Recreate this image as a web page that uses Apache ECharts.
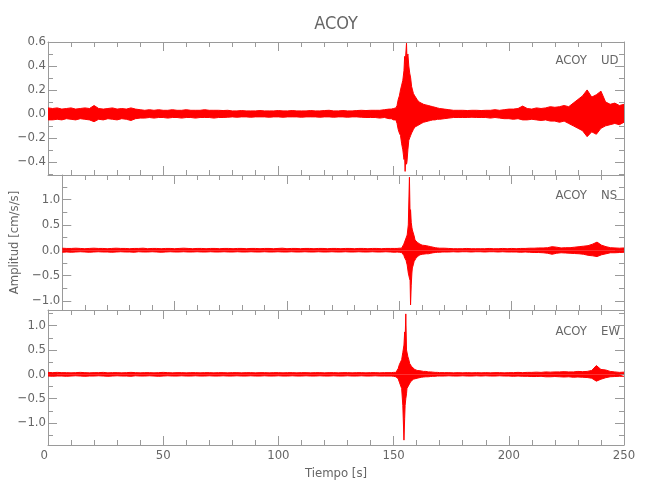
<!DOCTYPE html>
<html><head><meta charset="utf-8">
<script src="https://cdn.jsdelivr.net/npm/echarts@6/dist/echarts.min.js"></script>
<style>html,body{margin:0;padding:0;background:#fff}#c{width:650px;height:500px}</style>
</head><body><div id="c"></div>
<script>
const stationName = 'ACOY';
const componentNames = ['UD', 'NS', 'EW'];
const xAxisTitle = 'Tiempo [s]';
const yAxisTitle = 'Amplitud [cm/s/s]';

// sample times (s) of the read-off envelope
const timeSec = [
  0,2,4,6,8,10,12,14,16,18,20,22,24,26,28,
  30,32,34,36,38,40,42,44,46,48,50,52,54,56,58,
  60,62,64,66,68,70,72,74,76,78,80,82,84,86,88,
  90,92,94,96,98,100,102,104,106,108,110,112,114,116,118,
  120,122,124,126,128,130,132,134,136,138,140,142,144,146,148,
  149,150,151,151.5,152,152.5,153,153.5,154,154.5,
  154.8,155,155.3,155.6,155.8,156.2,156.6,157,157.4,157.8,
  158.2,158.6,159.2,160.2,161,162,163,164,165,166,
  167,168,169,170,
  172,174,176,178,180,182,184,186,188,190,
  192,194,196,198,200,202,204,206,208,210,
  212,214,216,218,220,222,224,226,228,230,
  232,234,236,238,240,242,244,246,248,250
];

// UD component: upper / lower envelope (cm/s/s)
const udHigh = [
  .05,.045,.05,.04,.045,.05,.04,.045,.05,.045,.07,.045,.04,.045,.05,
  .04,.045,.04,.05,.04,.035,.03,.035,.03,.035,.03,.03,.035,.03,.03,
  .035,.03,.03,.03,.035,.03,.03,.03,.028,.03,.025,.025,.028,.025,.025,
  .025,.028,.025,.025,.025,.028,.025,.025,.028,.025,.025,.025,.028,.025,.025,
  .028,.03,.025,.025,.028,.025,.025,.028,.03,.028,.03,.03,.03,.035,.04,
  .04,.045,.05,.07,.12,.15,.2,.24,.28,.36,
  .48,.42,.5,.59,.46,.5,.4,.34,.3,.23,
  .2,.17,.15,.12,.1,.09,.08,.075,.07,.065,
  .06,.055,.05,.045,
  .04,.035,.03,.03,.03,.028,.03,.03,.028,.03,
  .03,.035,.03,.035,.04,.04,.045,.065,.045,.04,
  .05,.045,.05,.06,.055,.06,.07,.06,.09,.12,
  .15,.2,.14,.16,.19,.1,.08,.09,.07,.08
];
const udLow = [
  -.05,-.05,-.045,-.05,-.04,-.045,-.05,-.04,-.045,-.05,-.065,-.045,-.05,-.04,-.045,
  -.05,-.04,-.045,-.055,-.04,-.035,-.035,-.03,-.035,-.03,-.03,-.035,-.03,-.03,-.035,
  -.03,-.03,-.035,-.03,-.03,-.03,-.035,-.03,-.03,-.028,-.025,-.028,-.025,-.025,-.028,
  -.025,-.025,-.025,-.028,-.025,-.025,-.028,-.025,-.025,-.025,-.028,-.025,-.025,-.025,-.028,
  -.025,-.025,-.028,-.025,-.025,-.028,-.025,-.025,-.028,-.03,-.03,-.03,-.035,-.03,-.04,
  -.04,-.05,-.05,-.08,-.13,-.16,-.18,-.25,-.3,-.38,
  -.36,-.48,-.35,-.42,-.4,-.3,-.22,-.2,-.18,-.16,
  -.15,-.13,-.11,-.1,-.09,-.08,-.07,-.065,-.06,-.055,
  -.05,-.05,-.045,-.045,
  -.04,-.035,-.03,-.03,-.03,-.03,-.028,-.03,-.03,-.03,
  -.035,-.03,-.035,-.04,-.04,-.045,-.04,-.05,-.05,-.045,
  -.05,-.055,-.05,-.06,-.06,-.07,-.06,-.08,-.1,-.12,
  -.14,-.19,-.15,-.17,-.12,-.1,-.09,-.08,-.09,-.07
];

// NS component
const nsHigh = [
  .04,.035,.035,.04,.035,.03,.035,.04,.035,.035,.03,.035,.04,.035,.035,
  .03,.035,.035,.04,.03,.035,.035,.03,.035,.035,.03,.035,.04,.035,.03,
  .035,.035,.03,.035,.035,.03,.035,.035,.03,.035,.035,.03,.035,.035,.03,
  .035,.035,.03,.035,.04,.03,.035,.035,.03,.035,.035,.03,.035,.035,.03,
  .035,.035,.03,.035,.035,.03,.035,.035,.03,.035,.035,.03,.035,.035,.035,
  .035,.04,.04,.05,.12,.18,.2,.3,.5,1.44,
  .65,.8,.55,.45,.4,.34,.28,.2,.22,.17,
  .15,.14,.12,.1,.1,.09,.08,.07,.06,.05,
  .045,.04,.04,.04,
  .035,.03,.03,.03,.035,.03,.03,.03,.03,.035,
  .03,.03,.035,.03,.035,.03,.035,.035,.04,.04,
  .045,.045,.05,.07,.06,.045,.05,.05,.06,.07,
  .08,.09,.12,.16,.1,.07,.05,.045,.04,.045
];
const nsLow = [
  -.04,-.035,-.04,-.035,-.03,-.035,-.04,-.035,-.03,-.035,-.035,-.04,-.035,-.03,-.035,
  -.035,-.04,-.03,-.035,-.035,-.03,-.035,-.04,-.035,-.03,-.035,-.035,-.03,-.035,-.035,
  -.03,-.035,-.035,-.03,-.035,-.035,-.03,-.035,-.035,-.03,-.035,-.035,-.03,-.035,-.035,
  -.03,-.035,-.035,-.03,-.035,-.035,-.03,-.035,-.035,-.03,-.035,-.035,-.03,-.035,-.035,
  -.03,-.035,-.035,-.03,-.035,-.035,-.03,-.035,-.035,-.03,-.035,-.035,-.03,-.035,-.04,
  -.035,-.04,-.045,-.06,-.1,-.16,-.2,-.29,-.45,-.55,
  -.6,-1.08,-.69,-.45,-.35,-.29,-.22,-.19,-.16,-.14,
  -.12,-.1,-.09,-.08,-.08,-.07,-.07,-.06,-.05,-.045,
  -.04,-.04,-.035,-.035,
  -.035,-.03,-.035,-.03,-.03,-.035,-.03,-.03,-.035,-.03,
  -.03,-.035,-.03,-.035,-.035,-.035,-.04,-.035,-.04,-.045,
  -.045,-.05,-.06,-.08,-.06,-.05,-.055,-.06,-.065,-.07,
  -.08,-.1,-.11,-.125,-.09,-.07,-.05,-.05,-.045,-.04
];

// EW component
const ewHigh = [
  .04,.035,.04,.035,.035,.03,.035,.04,.035,.03,.035,.035,.04,.03,.035,
  .035,.03,.035,.04,.035,.03,.035,.035,.03,.035,.04,.035,.03,.035,.035,
  .03,.035,.035,.03,.035,.035,.03,.035,.035,.03,.035,.035,.03,.035,.035,
  .03,.035,.035,.03,.035,.035,.03,.035,.035,.03,.035,.035,.03,.035,.035,
  .03,.035,.035,.03,.035,.035,.03,.035,.035,.03,.035,.035,.03,.035,.035,
  .035,.04,.04,.06,.12,.2,.22,.3,.45,.6,
  .87,.7,1.24,.5,.46,.36,.3,.22,.2,.16,
  .15,.14,.1,.08,.08,.07,.06,.06,.05,.05,
  .045,.04,.04,.035,
  .035,.035,.03,.035,.03,.035,.03,.035,.03,.035,
  .03,.035,.035,.03,.035,.035,.04,.035,.04,.04,
  .045,.04,.05,.045,.05,.05,.055,.05,.05,.06,
  .055,.06,.08,.18,.1,.09,.06,.05,.04,.045
];
const ewLow = [
  -.035,-.04,-.035,-.035,-.04,-.035,-.03,-.035,-.04,-.035,-.035,-.03,-.035,-.04,-.035,
  -.03,-.035,-.035,-.04,-.03,-.035,-.035,-.03,-.035,-.04,-.035,-.03,-.035,-.035,-.03,
  -.035,-.035,-.03,-.035,-.035,-.03,-.035,-.035,-.03,-.035,-.035,-.03,-.035,-.035,-.03,
  -.035,-.035,-.03,-.035,-.035,-.03,-.035,-.035,-.03,-.035,-.035,-.03,-.035,-.035,-.03,
  -.035,-.035,-.03,-.035,-.035,-.03,-.035,-.035,-.03,-.035,-.035,-.03,-.035,-.035,-.035,
  -.035,-.04,-.05,-.06,-.09,-.16,-.2,-.29,-.64,-1.35,
  -.9,-.64,-.5,-.4,-.29,-.25,-.22,-.2,-.15,-.13,
  -.12,-.1,-.09,-.08,-.07,-.06,-.055,-.05,-.05,-.045,
  -.04,-.04,-.035,-.035,
  -.035,-.03,-.035,-.035,-.03,-.035,-.035,-.03,-.035,-.03,
  -.035,-.035,-.03,-.035,-.035,-.04,-.035,-.04,-.04,-.045,
  -.045,-.04,-.05,-.05,-.045,-.05,-.055,-.05,-.06,-.055,
  -.06,-.065,-.08,-.14,-.1,-.07,-.05,-.045,-.04,-.04
];

// y-axis extents of the three panels and their label step
const yMins = [-0.51, -1.18, -1.45];
const yMaxs = [0.60, 1.485, 1.32];
const yLabelSteps = [0.2, 0.5, 0.5];
const xMin = 0, xMax = 250, xStep = 50;

const highs = [udHigh, nsHigh, ewHigh];
const lows = [udLow, nsLow, ewLow];

const FONT = '"Liberation Sans Narrow","DejaVu Sans Condensed","Roboto Condensed","Liberation Sans",sans-serif';
const AX = '#9a9a9a';
const TXT = '#666666';
const RED = '#ff0000';

const gridTops = [42, 175, 310];
const gridHeights = [133, 135, 135];

const grids = [], xAxes = [], yAxes = [], series = [];
function toPairs(vals) { return timeSec.map((t, i) => [t, vals[i]]); }
function yFmt(step) {
  return function (v) {
    const k = v / step;
    if (Math.abs(k - Math.round(k)) > 1e-6) return '';
    return (Math.round(k) * step).toFixed(1).replace('-', '\u2212');
  };
}

for (let i = 0; i < 3; i++) {
  grids.push({ left: 48, right: 26, top: gridTops[i], height: gridHeights[i], containLabel: false });
  const baseX = {
    type: 'value', gridIndex: i, min: xMin, max: xMax, interval: xStep,
    axisLine: { show: true, onZero: false, lineStyle: { color: AX, width: 1 } },
    axisTick: { show: true, inside: true, length: 9, lineStyle: { color: AX } },
    minorTick: { show: true, splitNumber: 5, length: 5, lineStyle: { color: AX } },
    splitLine: { show: false }, minorSplitLine: { show: false }
  };
  xAxes.push(Object.assign({}, baseX, {
    position: 'bottom',
    axisLabel: i === 2 ? { show: true, color: TXT, fontFamily: FONT, fontSize: 13, margin: 4, alignMinLabel: 'right' } : { show: false },
    name: i === 2 ? xAxisTitle : '', nameLocation: 'middle', nameGap: 22,
    nameTextStyle: { color: TXT, fontFamily: FONT, fontSize: 13 }
  }));
  xAxes.push(Object.assign({}, baseX, { position: 'top', axisLabel: { show: false } }));
  const baseY = {
    type: 'value', gridIndex: i, min: yMins[i], max: yMaxs[i], splitNumber: 5,
    axisLine: { show: true, onZero: false, lineStyle: { color: AX, width: 1 } },
    axisTick: { show: true, inside: true, length: 9, lineStyle: { color: AX } },
    minorTick: { show: true, splitNumber: 2, length: 5, lineStyle: { color: AX } },
    splitLine: { show: false }, minorSplitLine: { show: false }
  };
  yAxes.push(Object.assign({}, baseY, {
    position: 'left',
    axisLabel: { show: true, color: TXT, fontFamily: FONT, fontSize: 13, margin: 2, formatter: yFmt(yLabelSteps[i]), showMinLabel: true, showMaxLabel: true },
    name: i === 1 ? yAxisTitle : '', nameLocation: 'middle', nameGap: 27, nameRotate: 90,
    nameTextStyle: { color: TXT, fontFamily: FONT, fontSize: 13 }
  }));
  yAxes.push(Object.assign({}, baseY, { position: 'right', axisLabel: { show: false } }));

  [highs[i], lows[i]].forEach(function (vals) {
    series.push({
      type: 'line', xAxisIndex: 2 * i, yAxisIndex: 2 * i, data: toPairs(vals),
      symbol: 'none', showSymbol: false, silent: true, clip: true,
      lineStyle: { color: RED, width: 1 },
      areaStyle: { color: RED, opacity: 1 }
    });
  });
}

const labelYs = [61, 196, 332];
const graphics = [{
  type: 'text', x: 336, y: 24,
  style: { text: stationName, fill: TXT, font: '18px ' + FONT, textAlign: 'center', textVerticalAlign: 'middle' }
}];
for (let i = 0; i < 3; i++) {
  graphics.push({ type: 'text', x: 587, y: labelYs[i], style: { text: stationName, fill: TXT, font: '13px ' + FONT, textAlign: 'right', textVerticalAlign: 'middle' } });
  graphics.push({ type: 'text', x: 601, y: labelYs[i], style: { text: componentNames[i], fill: TXT, font: '13px ' + FONT, textAlign: 'left', textVerticalAlign: 'middle' } });
}

const chart = echarts.init(document.getElementById('c'), null, { renderer: 'canvas' });
chart.setOption({
  animation: false,
  backgroundColor: '#ffffff',
  grid: grids, xAxis: xAxes, yAxis: yAxes, series: series,
  graphic: graphics
});
</script></body></html>
